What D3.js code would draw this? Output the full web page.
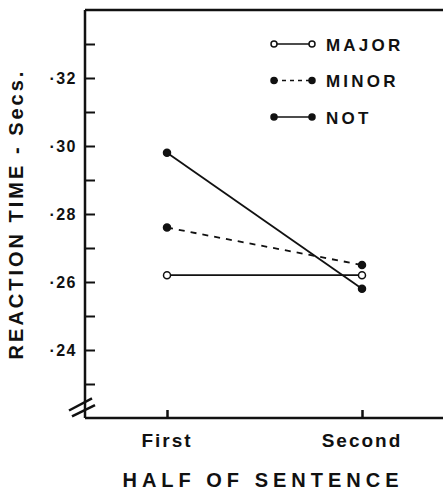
<!DOCTYPE html>
<html>
<head>
<meta charset="utf-8">
<script src="https://cdn.jsdelivr.net/npm/d3@7"></script>
<style>
  body { margin: 0; background: #fff; }
  svg { display: block; }
  text { font-family: "Liberation Sans", Arial, sans-serif; font-weight: bold; fill: #111; }
</style>
</head>
<body>
<div id="chart"></div>
<script>
// data
const halves = ['First', 'Second'];
const major = [0.262, 0.262];
const minor = [0.276, 0.265];
const not = [0.298, 0.258];
const yTicks = [0.23, 0.24, 0.25, 0.26, 0.27, 0.28, 0.29, 0.30, 0.31, 0.32, 0.33];
const yLabelled = [0.24, 0.26, 0.28, 0.30, 0.32];

const series = [
  { name: 'MAJOR', values: major, open: true, dash: null },
  { name: 'MINOR', values: minor, open: false, dash: '6,6' },
  { name: 'NOT', values: not, open: false, dash: null },
];

const width = 443;
const height = 490;
const margin = { top: 10, left: 85, right: 0, bottom: 72 };
const chartW = width - margin.left - margin.right;
const chartH = height - margin.top - margin.bottom;

const svg = d3.select('#chart').append('svg').attr('width', width).attr('height', height);
const chart = svg.append('g').attr('transform', `translate(${margin.left},${margin.top})`);

const x = d3.scalePoint().domain(halves).range([82, 277]);
const y = d3.scaleLinear().domain([0.22, 0.34]).range([chartH, 0]);

// frame: top and bottom
chart.append('line').attr('x1', 0).attr('x2', chartW).attr('y1', 0).attr('y2', 0)
  .attr('stroke', '#111').attr('stroke-width', 2.5);
chart.append('line').attr('x1', 0).attr('x2', chartW).attr('y1', chartH).attr('y2', chartH)
  .attr('stroke', '#111').attr('stroke-width', 2.5);

const yAxis = d3.axisLeft(y)
  .tickValues(yTicks)
  .tickSize(-10)
  .tickPadding(8)
  .tickFormat((d) => (yLabelled.some((v) => Math.abs(v - d) < 1e-9) ? '·' + d3.format('.2f')(d).slice(2) : ''));

chart.append('g').call(yAxis).call((g) => {
  g.select('.domain').attr('stroke', '#111').attr('stroke-width', 2.5).attr('d', `M0,0V${chartH}`);
  g.selectAll('.tick line').attr('stroke', '#111').attr('stroke-width', 2);
  g.selectAll('.tick text').style('font-size', '16px').attr('letter-spacing', 1.5).attr('fill', '#111');
});

const xAxis = d3.axisTop(x).tickSize(8).tickFormat('');
chart.append('g').attr('transform', `translate(0,${chartH})`).call(xAxis).call((g) => {
  g.select('.domain').remove();
  g.selectAll('.tick line').attr('stroke', '#111').attr('stroke-width', 2.5);
});

chart.selectAll('.xlab').data(halves).enter().append('text')
  .attr('x', (d) => x(d)).attr('y', chartH + 29)
  .attr('text-anchor', 'middle').style('font-size', '19px').attr('letter-spacing', 2)
  .text((d) => d);

// axis break
const brk = chart.append('g').attr('stroke', '#111').attr('stroke-width', 2.5);
brk.append('line').attr('x1', -16).attr('y1', y(0.2222)).attr('x2', 7).attr('y2', y(0.2258));
brk.append('line').attr('x1', -13).attr('y1', y(0.2205)).attr('x2', 10).attr('y2', y(0.2238));

// lines
const line = d3.line().x((d, i) => x(halves[i])).y((d) => y(d));
series.forEach((s) => {
  chart.append('path').datum(s.values).attr('d', line)
    .attr('fill', 'none').attr('stroke', '#111').attr('stroke-width', 1.8)
    .attr('stroke-dasharray', s.dash);
  chart.selectAll(null).data(s.values).enter().append('circle')
    .attr('cx', (d, i) => x(halves[i])).attr('cy', (d) => y(d)).attr('r', 3.5)
    .attr('fill', s.open ? '#fff' : '#111').attr('stroke', '#111').attr('stroke-width', 1.5);
});

// legend
const legend = chart.append('g').attr('transform', 'translate(189,34)');
series.forEach((s, i) => {
  const row = legend.append('g').attr('transform', `translate(0,${i * 36.5})`);
  row.append('line').attr('x1', 0).attr('x2', 38).attr('y1', 0).attr('y2', 0)
    .attr('stroke', '#111').attr('stroke-width', 1.6).attr('stroke-dasharray', s.dash ? '4,4' : null);
  [0, 38].forEach((cx) => row.append('circle').attr('cx', cx).attr('cy', 0).attr('r', 3)
    .attr('fill', s.open ? '#fff' : '#111').attr('stroke', '#111').attr('stroke-width', 1.5));
  row.append('text').attr('x', 52).attr('y', 6.5).style('font-size', '17px').attr('letter-spacing', 3.2)
    .text(s.name);
});

// axis titles
svg.append('text')
  .attr('transform', `translate(23,214) rotate(-90)`)
  .attr('text-anchor', 'middle').style('font-size', '20px').attr('letter-spacing', 3)
  .text('REACTION TIME - Secs.');

svg.append('text')
  .attr('x', 263).attr('y', 487)
  .attr('text-anchor', 'middle').style('font-size', '20px').attr('letter-spacing', 5)
  .text('HALF OF SENTENCE');
</script>
</body>
</html>
